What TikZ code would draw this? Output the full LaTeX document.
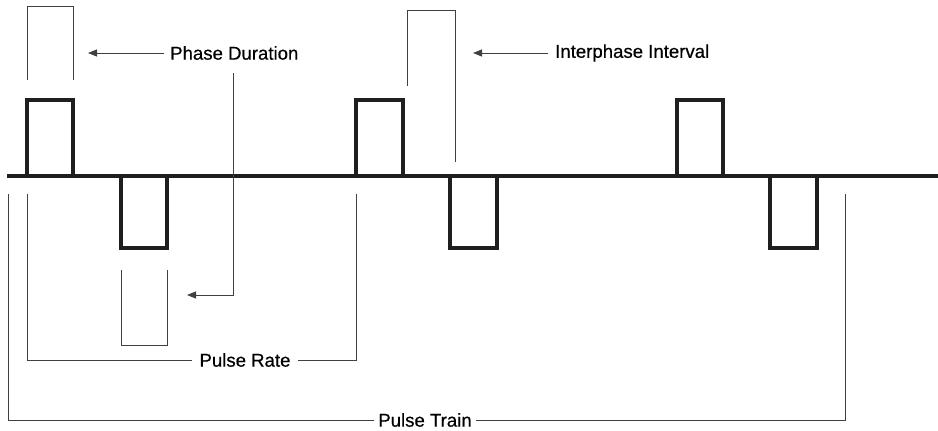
\documentclass[tikz,border=0pt]{standalone}
\usepackage{fontspec}
\setmainfont{Liberation Sans}
\newfontfamily\lblfont{Liberation Sans}[FakeBold=0.5]
\usetikzlibrary{arrows.meta}
\begin{document}
\begin{tikzpicture}[x=1pt,y=-1pt,
  wave/.style={line width=3.6pt,line join=miter,color=black!88},
  thin/.style={line width=0.9pt,color=black!75},
  arr/.style={thin,-{Triangle[length=9pt,width=7pt]}},
  lbl/.style={font=\lblfont\fontsize{18.6}{21}\selectfont,inner sep=0pt,text=black}]
\useasboundingbox (0,0) rectangle (938,431);
% baseline
\coordinate (w0) at (7,176);
\coordinate (w1) at (938,176);
\draw[wave] (w0) -- (w1);
% positive phases
\draw[wave] (27,176) -- (27,100) -- (73,100) -- (73,176);
\draw[wave] (356,176) -- (356,100) -- (403,100) -- (403,176);
\draw[wave] (677,176) -- (677,100) -- (723,100) -- (723,176);
% negative phases
\draw[wave] (121,176) -- (121,248) -- (167,248) -- (167,176);
\draw[wave] (450,176) -- (450,248) -- (497,248) -- (497,176);
\draw[wave] (770,176) -- (770,248) -- (817,248) -- (817,176);
% labels
\node[lbl,anchor=west] (pd) at (170,53) {Phase Duration};
\node[lbl,anchor=west] (ii) at (555,53) {Interphase Interval};
\node[lbl] (pr) at (245,360) {Pulse Rate};
\node[lbl] (pt) at (425,420) {Pulse Train};
% phase duration brackets
\draw[thin] (27,80) -- (27,6) -- (73,6) -- (73,80);
\draw[thin] (121,270) -- (121,345) -- (167,345) -- (167,270);
\coordinate (pda) at (88,53);
\draw[arr] ([xshift=-6pt]pd.west) -- (pda);
\coordinate (pdb) at (187,295);
\draw[arr] (233,73) -- (233,295) -- (pdb);
% interphase interval
\draw[thin] (407,86) -- (407,10) -- (455,10) -- (455,162);
\coordinate (iia) at (473,53);
\draw[arr] ([xshift=-7pt]ii.west) -- (iia);
% pulse rate
\draw[thin] ([xshift=-7pt]pr.west) -- (27,360) -- (27,194);
\draw[thin] ([xshift=7pt]pr.east) -- (356,360) -- (356,194);
% pulse train
\draw[thin] ([xshift=-4pt]pt.west) -- (8,420) -- (8,194);
\draw[thin] ([xshift=4pt]pt.east) -- (845,420) -- (845,194);
\end{tikzpicture}
\end{document}
